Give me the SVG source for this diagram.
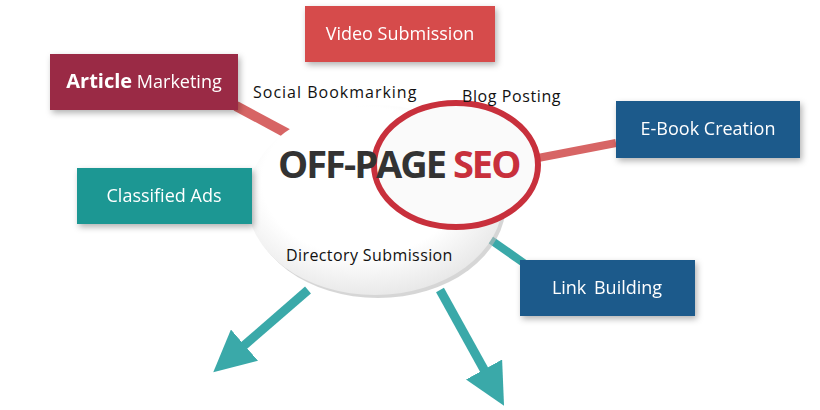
<svg xmlns="http://www.w3.org/2000/svg" width="820" height="410" viewBox="0 0 820 410">
<defs>
<style>
.bt{font-family:"Open Sans","Liberation Sans",sans-serif;fill:#fff;font-size:18px;text-anchor:middle}
.lt{font-family:"Open Sans","Liberation Sans",sans-serif;fill:#111;font-size:16px}
</style>
<radialGradient id="wg" cx="0.45" cy="0.4" r="0.65"><stop offset="0.6" stop-color="#fff"/><stop offset="1" stop-color="#e4e4e4"/></radialGradient>
<filter id="sh" x="-20%" y="-20%" width="140%" height="150%"><feDropShadow dx="2" dy="3" stdDeviation="3" flood-color="#000" flood-opacity="0.3"/></filter>
<marker id="ah" viewBox="0 0 10 10" refX="4" refY="5" markerWidth="4.6" markerHeight="4.6" orient="auto"><path d="M0,0 L10,5 L0,10 z" fill="#3aa9a9"/></marker>
</defs>
<rect width="820" height="410" fill="#fff"/>
<g id="connectors" stroke-linecap="butt" fill="none">
<line x1="236" y1="106" x2="290" y2="135" stroke="#d76565" stroke-width="10"/>
<line x1="616" y1="143" x2="538" y2="158" stroke="#d76565" stroke-width="8"/>
<line x1="488" y1="238" x2="528" y2="266" stroke="#3aa9a9" stroke-width="8"/>
<line x1="308" y1="290" x2="232" y2="356" stroke="#3aa9a9" stroke-width="9" marker-end="url(#ah)"/>
<line x1="440" y1="290" x2="492" y2="384" stroke="#3aa9a9" stroke-width="9" marker-end="url(#ah)"/>
</g>
<g id="center">
<ellipse cx="378" cy="203" rx="128" ry="95" fill="#bbb" opacity="0.6"/>
<ellipse cx="375" cy="200" rx="128" ry="95" fill="url(#wg)"/>
<ellipse cx="456" cy="165" rx="82" ry="62" fill="#fafafa" stroke="#c8303c" stroke-width="6"/>
<text x="278" y="178" font-family="'Open Sans','Liberation Sans',sans-serif" font-size="38" font-weight="bold" fill="#333" letter-spacing="-2">OFF-PAGE <tspan fill="#c8303c">SEO</tspan></text>
<text x="286" y="261" class="lt" font-size="17" letter-spacing="0.4">Directory Submission</text>
</g>
<g id="labels">
<text x="253" y="98" class="lt" letter-spacing="1">Social Bookmarking</text>
<text x="462" y="102" class="lt" letter-spacing="0.6">Blog Posting</text>
</g>
<g id="video" filter="url(#sh)"><rect x="305" y="6" width="190" height="56" fill="#d64c4c"/><text x="400" y="40" class="bt">Video Submission</text></g>
<g id="article" filter="url(#sh)"><rect x="50" y="54" width="188" height="56" fill="#9a2b45"/><text x="144" y="88" class="bt"><tspan font-weight="bold" font-size="20">Article</tspan> Marketing</text></g>
<g id="classified" filter="url(#sh)"><rect x="77" y="168" width="175" height="56" fill="#1a9793"/><text x="164" y="202" class="bt" font-size="20">Classified Ads</text></g>
<g id="ebook" filter="url(#sh)"><rect x="616" y="101" width="184" height="57" fill="#1e5a8b"/><text x="708" y="135" class="bt">E-Book Creation</text></g>
<g id="link" filter="url(#sh)"><rect x="520" y="260" width="175" height="56" fill="#1e5a8b"/><text x="607" y="294" class="bt" word-spacing="3">Link Building</text></g>
</svg>
